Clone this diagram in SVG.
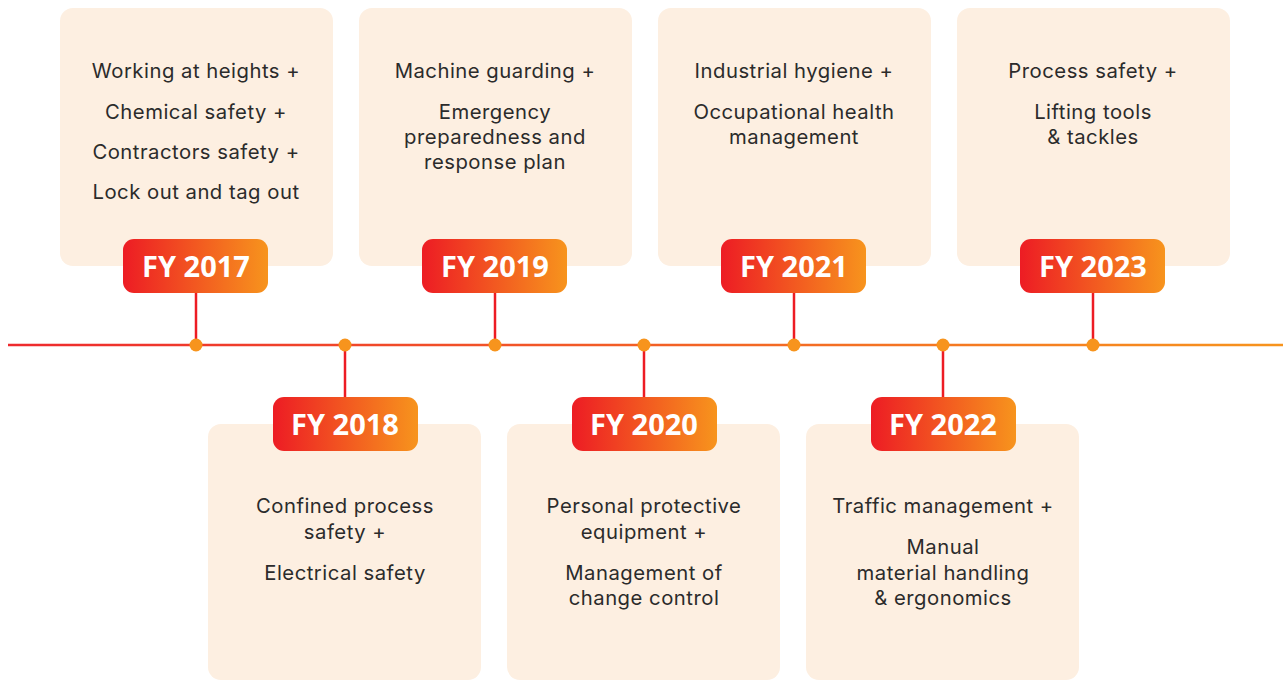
<svg xmlns="http://www.w3.org/2000/svg" width="1283" height="681" viewBox="0 0 1283 681">
<defs>
<linearGradient id="bg" x1="0" y1="0" x2="1" y2="0">
<stop offset="0" stop-color="#ed1c24"/>
<stop offset="1" stop-color="#f7941d"/>
</linearGradient>
<linearGradient id="lg" gradientUnits="userSpaceOnUse" x1="8" y1="0" x2="1283" y2="0">
<stop offset="0" stop-color="#ee2a2e"/>
<stop offset="1" stop-color="#f7941d"/>
</linearGradient>
<style>
.box{fill:#fdefe1}
.badge{fill:url(#bg)}
.bt{font-family:"Open Sans","DejaVu Sans",sans-serif;font-weight:700;font-size:29px;fill:#fff;text-anchor:middle}
.t{font-family:Inter,"DejaVu Sans",sans-serif;font-size:20.3px;letter-spacing:0.5px;fill:#2b2b2b;text-anchor:middle}
.stem{stroke:#ed1c24;stroke-width:2.5}
.dot{fill:#f7941d}
</style>
</defs>
<rect width="1283" height="681" fill="#fff"/>
<g id="connectors">
<line x1="8" y1="345" x2="1283" y2="345" stroke="url(#lg)" stroke-width="2.5"/>
<line class="stem" x1="196" y1="293" x2="196" y2="345"/>
<line class="stem" x1="345" y1="345" x2="345" y2="397"/>
<line class="stem" x1="495" y1="293" x2="495" y2="345"/>
<line class="stem" x1="644" y1="345" x2="644" y2="397"/>
<line class="stem" x1="794" y1="293" x2="794" y2="345"/>
<line class="stem" x1="943" y1="345" x2="943" y2="397"/>
<line class="stem" x1="1093" y1="293" x2="1093" y2="345"/>
<circle class="dot" cx="196" cy="345" r="6.5"/>
<circle class="dot" cx="345" cy="345" r="6.5"/>
<circle class="dot" cx="495" cy="345" r="6.5"/>
<circle class="dot" cx="644" cy="345" r="6.5"/>
<circle class="dot" cx="794" cy="345" r="6.5"/>
<circle class="dot" cx="943" cy="345" r="6.5"/>
<circle class="dot" cx="1093" cy="345" r="6.5"/>
</g>
<g id="fy2017">
<rect class="box" x="60" y="8" width="273" height="258" rx="13"/>
<text class="t" x="196" y="78">Working at heights +</text>
<text class="t" x="196" y="119">Chemical safety +</text>
<text class="t" x="196" y="159">Contractors safety +</text>
<text class="t" x="196" y="199">Lock out and tag out</text>
<rect class="badge" x="123" y="239" width="145" height="54" rx="11"/>
<text class="bt" x="196" y="277">FY 2017</text>
</g>
<g id="fy2019">
<rect class="box" x="359" y="8" width="273" height="258" rx="13"/>
<text class="t" x="495" y="78">Machine guarding +</text>
<text class="t" x="495" y="119">Emergency</text>
<text class="t" x="495" y="144">preparedness and</text>
<text class="t" x="495" y="169">response plan</text>
<rect class="badge" x="422" y="239" width="145" height="54" rx="11"/>
<text class="bt" x="495" y="277">FY 2019</text>
</g>
<g id="fy2021">
<rect class="box" x="658" y="8" width="273" height="258" rx="13"/>
<text class="t" x="794" y="78">Industrial hygiene +</text>
<text class="t" x="794" y="119">Occupational health</text>
<text class="t" x="794" y="144">management</text>
<rect class="badge" x="721" y="239" width="145" height="54" rx="11"/>
<text class="bt" x="794" y="277">FY 2021</text>
</g>
<g id="fy2023">
<rect class="box" x="957" y="8" width="273" height="258" rx="13"/>
<text class="t" x="1093" y="78">Process safety +</text>
<text class="t" x="1093" y="119">Lifting tools</text>
<text class="t" x="1093" y="144">&amp; tackles</text>
<rect class="badge" x="1020" y="239" width="145" height="54" rx="11"/>
<text class="bt" x="1093" y="277">FY 2023</text>
</g>
<g id="fy2018">
<rect class="box" x="208" y="424" width="273" height="256" rx="13"/>
<text class="t" x="345" y="513">Confined process</text>
<text class="t" x="345" y="539">safety +</text>
<text class="t" x="345" y="580">Electrical safety</text>
<rect class="badge" x="273" y="397" width="145" height="54" rx="11"/>
<text class="bt" x="345" y="435">FY 2018</text>
</g>
<g id="fy2020">
<rect class="box" x="507" y="424" width="273" height="256" rx="13"/>
<text class="t" x="644" y="513">Personal protective</text>
<text class="t" x="644" y="539">equipment +</text>
<text class="t" x="644" y="580">Management of</text>
<text class="t" x="644" y="605">change control</text>
<rect class="badge" x="572" y="397" width="145" height="54" rx="11"/>
<text class="bt" x="644" y="435">FY 2020</text>
</g>
<g id="fy2022">
<rect class="box" x="806" y="424" width="273" height="256" rx="13"/>
<text class="t" x="943" y="513">Traffic management +</text>
<text class="t" x="943" y="554">Manual</text>
<text class="t" x="943" y="580">material handling</text>
<text class="t" x="943" y="605">&amp; ergonomics</text>
<rect class="badge" x="871" y="397" width="145" height="54" rx="11"/>
<text class="bt" x="943" y="435">FY 2022</text>
</g>
</svg>
